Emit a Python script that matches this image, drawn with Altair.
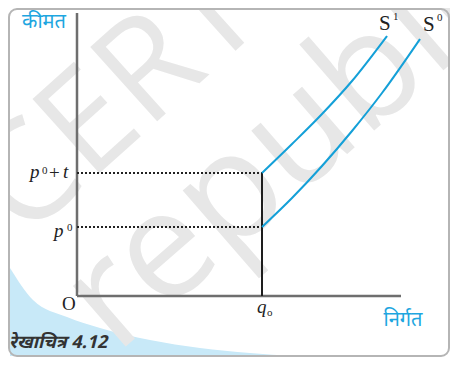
import altair as alt
import pandas as pd

# ---- data (units: plot coordinates, origin at O) ----
s0_x = [185, 215, 245, 275, 305, 343]
s0_y = [69, 98, 130, 165, 203, 257]
s1_x = [185, 215, 245, 275, 310]
s1_y = [123, 152, 182, 215, 260]

q0 = 185
p0 = 69
p0_t = 123
x_axis_end = 324
y_axis_end = 283

# decorative background (light-blue swoosh, frame)
swoosh_x = [-67, -44, -10, 23, 73, 123, 173, 218]
swoosh_y = [28, -4, -21, -32, -44, -52, -57, -60]
swoosh_base = -60
frame_x = [-68, 372]
frame_y = [-60, 287]

BLUE = "#14a0d8"
LABEL_BLUE = "#1ea6e0"

X = alt.X("x:Q", scale=alt.Scale(domain=[0, 360]), axis=None)
Y = alt.Y("y:Q", scale=alt.Scale(domain=[0, 286]), axis=None)

swoosh = alt.Chart(pd.DataFrame({"x": swoosh_x, "y": swoosh_y, "y2": [swoosh_base] * len(swoosh_x)})).mark_area(
    color="#c8e9f8", interpolate="monotone"
).encode(x=X, y=Y, y2="y2:Q")

frame = alt.Chart(pd.DataFrame({"x": [frame_x[0]], "x2": [frame_x[1]], "y": [frame_y[1]], "y2": [frame_y[0]]})).mark_rect(
    fill="white", fillOpacity=0, stroke="#b5b5b5", strokeWidth=2, cornerRadius=8
).encode(x=X, x2="x2:Q", y=Y, y2="y2:Q")

wm = pd.DataFrame({"x": [41], "y": [196], "t": ["CERT"]})
watermark1 = alt.Chart(wm).mark_text(
    angle=318, fontSize=140, font="Open Sans", color="#e7e7e7", align="center", baseline="middle"
).encode(x=X, y=Y, text="t:N")
wm2 = pd.DataFrame({"x": [39], "y": [-59], "t": ["republished"]})
watermark2 = alt.Chart(wm2).mark_text(
    angle=319, fontSize=150, font="Open Sans", color="#e7e7e7", align="left", baseline="alphabetic"
).encode(x=X, y=Y, text="t:N")

axes_df = pd.DataFrame({"x": [0, 0], "x2": [0, x_axis_end], "y": [0, 0], "y2": [y_axis_end, 0]})
axes = alt.Chart(axes_df).mark_rule(color="#6e6e6e", strokeWidth=2.5).encode(x=X, x2="x2:Q", y=Y, y2="y2:Q")

dots_df = pd.DataFrame({"x": [0, 0], "x2": [q0, q0], "y": [p0, p0_t]})
dots = alt.Chart(dots_df).mark_rule(color="#222222", strokeWidth=2, strokeDash=[2, 2]).encode(x=X, x2="x2:Q", y=Y)

vline = alt.Chart(pd.DataFrame({"x": [q0], "y": [0], "y2": [p0_t]})).mark_rule(
    color="#1e1e1e", strokeWidth=2
).encode(x=X, y=Y, y2="y2:Q")

curves_df = pd.concat([
    pd.DataFrame({"x": s0_x, "y": s0_y, "s": "S0"}),
    pd.DataFrame({"x": s1_x, "y": s1_y, "s": "S1"}),
])
curves = alt.Chart(curves_df).mark_line(color=BLUE, strokeWidth=2, interpolate="monotone").encode(
    x=X, y=Y, detail="s:N"
)

hindi_df = pd.DataFrame({"x": [-33, 326], "y": [274, -24], "t": ["कीमत", "निर्गत"]})
hindi = alt.Chart(hindi_df).mark_text(
    fontSize=20, font="Noto Sans Devanagari, Noto Sans, sans-serif", color=LABEL_BLUE, align="center", baseline="middle"
).encode(x=X, y=Y, text="t:N")

# math labels, split into main letters and small super/subscripts (left-aligned, on baseline)
ital_df = pd.DataFrame({"x": [-47, -14, -23, 180], "y": [118, 118, 59, -17], "t": ["p", "t", "p", "q"]})
ital = alt.Chart(ital_df).mark_text(
    fontSize=19, font="Liberation Serif", fontStyle="italic", color="#222", align="left", baseline="alphabetic"
).encode(x=X, y=Y, text="t:N")

upr_df = pd.DataFrame({"x": [-28, -15], "y": [117, -14], "t": ["+", "O"]})
upr = alt.Chart(upr_df).mark_text(
    fontSize=19, font="Liberation Serif", color="#222", align="left", baseline="alphabetic"
).encode(x=X, y=Y, text="t:N")

s_df = pd.DataFrame({"x": [302, 346], "y": [266, 265], "t": ["S", "S"]})
slab = alt.Chart(s_df).mark_text(
    fontSize=21, font="Liberation Serif", color="#222", align="left", baseline="alphabetic"
).encode(x=X, y=Y, text="t:N")

small_df = pd.DataFrame({"x": [-35, -10, 190, 316, 360], "y": [122, 65, -20, 276, 275], "t": ["0", "0", "o", "1", "0"]})
small = alt.Chart(small_df).mark_text(
    fontSize=11, font="Liberation Serif", color="#222", align="left", baseline="alphabetic"
).encode(x=X, y=Y, text="t:N")

cap = alt.Chart(pd.DataFrame({"x": [-68], "y": [-47], "t": ["रेखाचित्र 4.12"]})).mark_text(
    fontSize=18, font="Noto Sans Devanagari, Noto Sans, sans-serif", fontStyle="italic", fontWeight="bold",
    color="#333333", align="left", baseline="middle"
).encode(x=X, y=Y, text="t:N")

chart = alt.layer(
    swoosh, watermark1, watermark2, frame, axes, dots, vline, curves, hindi, ital, upr, slab, small, cap
).properties(
    width=360, height=286,
    padding={"left": 69, "top": 2, "right": 13, "bottom": 61},
    autosize=alt.AutoSizeParams(type="none"),
).configure_view(stroke=None)

chart.save("out.html", embed_options={"renderer": "svg", "actions": False})
